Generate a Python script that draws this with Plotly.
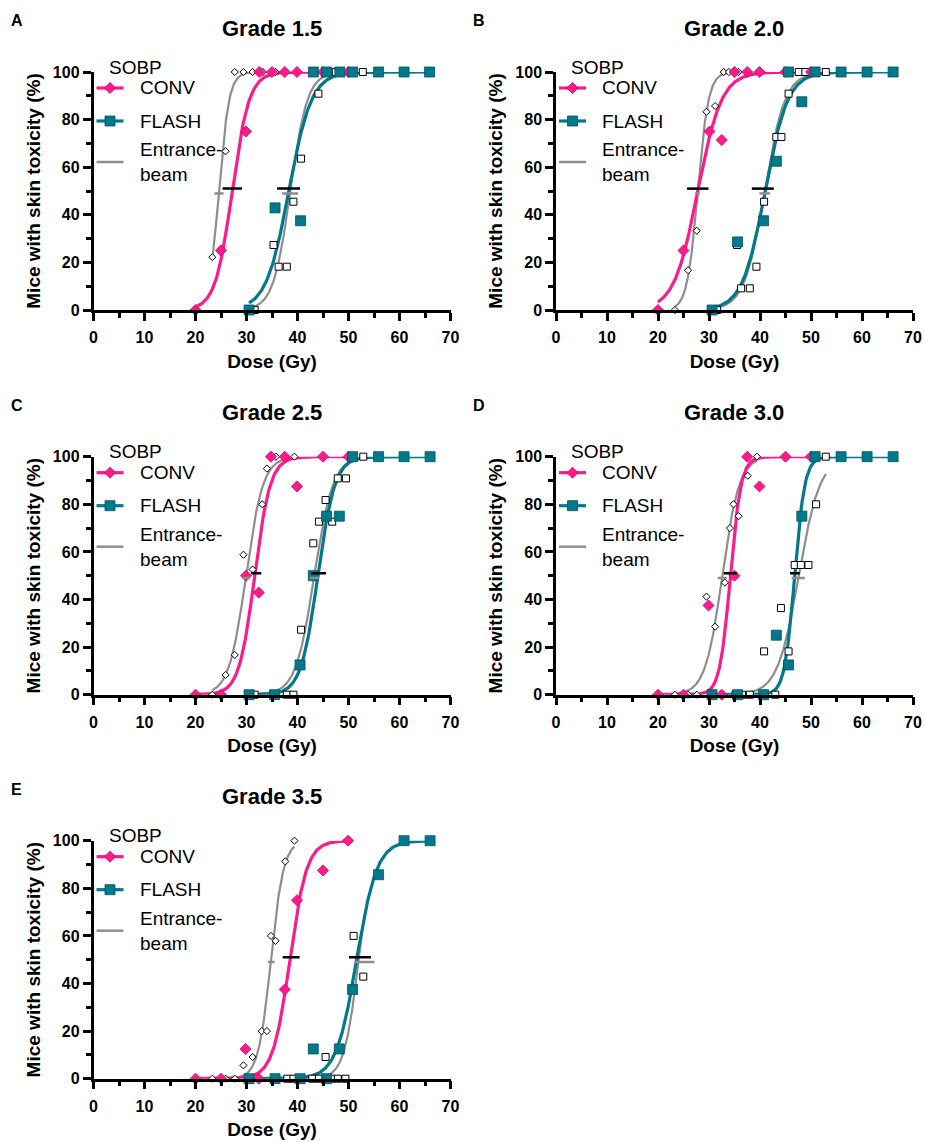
import math
import plotly.graph_objects as go

W, H = 925, 1142

PINK = "#FF1A8C"
PINK_EDGE = "#D0006E"
TEAL = "#00798B"
TEAL_EDGE = "#00525E"
GRAY = "#8E8E8E"
FONT = "Liberation Sans, Arial, sans-serif"

panel_letters = ["A", "B", "C", "D", "E"]
panel_titles = ["Grade 1.5", "Grade 2.0", "Grade 2.5", "Grade 3.0", "Grade 3.5"]
legend_labels = ["CONV", "FLASH", "Entrance-<br>beam"]
legend_header = "SOBP"
x_title = "Dose (Gy)"
y_title = "Mice with skin toxicity (%)"

# ---------------- Panel A (Grade 1.5) ----------------
A_conv_dose = [20.0, 25.0, 29.9, 32.5, 35.0, 37.5, 39.9, 45.0, 50.0]
A_conv_pct = [0, 25.0, 75.0, 100, 100, 100, 100, 100, 100]
A_conv_ent_dose = [23.3, 25.9, 27.7, 29.4, 31.2, 33.2, 35.7]
A_conv_ent_pct = [22.2, 66.7, 100, 100, 100, 100, 100]
A_flash_dose = [30.5, 35.6, 40.6, 43.1, 45.7, 48.3, 50.8, 55.9, 60.9, 65.9]
A_flash_pct = [0, 42.9, 37.5, 100, 100, 100, 100, 100, 100, 100]
A_flash_ent_dose = [31.6, 35.3, 36.3, 37.9, 39.2, 40.7, 44.1, 47.5, 52.8]
A_flash_ent_pct = [0, 27.3, 18.2, 18.2, 45.5, 63.6, 90.9, 100, 100]
# fit parameters: CONV, CONV entrance, FLASH, FLASH entrance
A_ed50 = [27.2, 24.6, 38.3, 38.6]
A_slope = [0.60, 1.00, 0.45, 0.60]
A_bar_lo = [25.3, 23.7, 36.0, 37.0]
A_bar_hi = [29.1, 25.5, 40.5, 40.1]

# ---------------- Panel B (Grade 2.0) ----------------
B_conv_dose = [20.0, 25.0, 30.1, 32.5, 35.0, 37.5, 39.9, 45.0, 50.0]
B_conv_pct = [0, 25.0, 75.0, 71.4, 100, 100, 100, 100, 100]
B_conv_ent_dose = [23.3, 25.9, 27.6, 29.5, 31.2, 32.9, 33.9, 35.8]
B_conv_ent_pct = [0, 16.7, 33.3, 83.3, 85.7, 100, 100, 100]
B_flash_dose = [30.6, 35.6, 40.7, 43.2, 45.6, 48.2, 50.8, 55.9, 61.0, 66.1]
B_flash_pct = [0, 28.6, 37.5, 62.5, 100, 87.5, 100, 100, 100, 100]
B_flash_ent_dose = [31.6, 35.5, 36.3, 38.0, 39.3, 40.8, 43.2, 44.2, 45.6, 47.6, 48.9, 52.9]
B_flash_ent_pct = [0, 27.3, 9.1, 9.1, 18.2, 45.5, 72.7, 72.7, 90.9, 100, 100, 100]
B_ed50 = [27.8, 27.8, 41.0, 40.9]
B_slope = [0.43, 0.95, 0.45, 0.50]
B_bar_lo = [25.7, 27.3, 38.4, 39.9]
B_bar_hi = [29.9, 28.2, 42.7, 42.0]

# ---------------- Panel C (Grade 2.5) ----------------
C_conv_dose = [20.0, 25.0, 29.9, 32.4, 34.8, 37.5, 39.9, 45.0, 50.0]
C_conv_pct = [0, 0, 50.0, 42.9, 100, 100, 87.5, 100, 100]
C_conv_ent_dose = [23.3, 25.9, 27.7, 29.4, 31.2, 33.1, 34.0, 35.8, 39.4]
C_conv_ent_pct = [0, 8.3, 16.7, 58.8, 52.6, 80.0, 95.0, 100, 100]
C_flash_dose = [30.5, 35.5, 40.5, 43.1, 45.7, 48.2, 50.8, 55.9, 60.9, 66.0]
C_flash_pct = [0, 0, 12.5, 50.0, 75.0, 75.0, 100, 100, 100, 100]
C_flash_ent_dose = [31.6, 37.9, 39.2, 40.7, 43.1, 44.2, 45.5, 46.8, 47.9, 49.5, 52.9]
C_flash_ent_pct = [0, 0, 0, 27.3, 63.6, 72.7, 81.8, 72.7, 90.9, 90.9, 100]
C_ed50 = [31.6, 29.9, 44.0, 43.3]
C_slope = [0.65, 0.60, 0.60, 0.55]
C_bar_lo = [30.9, 29.2, 42.7, 42.4]
C_bar_hi = [32.9, 30.7, 45.6, 44.3]

# ---------------- Panel D (Grade 3.0) ----------------
D_conv_dose = [20.0, 25.0, 29.9, 32.5, 35.0, 37.5, 39.9, 45.0, 50.0]
D_conv_pct = [0, 0, 37.5, 0, 50.0, 100, 87.5, 100, 100]
D_conv_ent_dose = [23.3, 25.9, 27.6, 29.5, 31.2, 33.1, 34.1, 34.8, 35.8, 37.6, 39.4]
D_conv_ent_pct = [0, 0, 0, 41.2, 28.6, 47.1, 70.0, 80.0, 75.0, 92.0, 100]
D_flash_dose = [30.6, 35.6, 40.7, 43.2, 45.6, 48.2, 50.8, 55.9, 61.0, 66.1]
D_flash_pct = [0, 0, 0, 25.0, 12.5, 75.0, 100, 100, 100, 100]
D_flash_ent_dose = [35.2, 36.5, 38.0, 40.8, 43.0, 44.1, 45.6, 46.8, 48.0, 49.5, 51.0, 52.9]
D_flash_ent_pct = [0, 0, 0, 18.2, 0, 36.4, 18.2, 54.5, 54.5, 54.5, 80.0, 100]
D_ed50 = [34.2, 32.6, 46.8, 47.6]
D_slope = [0.95, 0.60, 1.00, 0.48]
D_bar_lo = [32.9, 31.7, 45.9, 46.2]
D_bar_hi = [35.5, 33.5, 47.8, 48.8]

# ---------------- Panel E (Grade 3.5) ----------------
E_conv_dose = [20.0, 25.0, 29.8, 32.4, 37.5, 39.9, 45.0, 49.9]
E_conv_pct = [0, 0, 12.5, 0, 37.5, 75.0, 87.5, 100]
E_conv_ent_dose = [23.3, 25.9, 27.7, 29.4, 31.2, 33.0, 34.0, 34.8, 35.7, 37.6, 39.4]
E_conv_ent_pct = [0, 0, 0, 5.6, 9.1, 20.0, 20.0, 60.0, 57.9, 91.3, 100]
E_flash_dose = [30.5, 35.6, 40.5, 43.1, 45.7, 48.2, 50.8, 55.9, 60.9, 66.0]
E_flash_pct = [0, 0, 0, 12.5, 0, 12.5, 37.5, 85.7, 100, 100]
E_flash_ent_dose = [38.0, 39.2, 42.9, 44.2, 45.5, 46.6, 47.9, 49.4, 51.0, 52.9]
E_flash_ent_pct = [0, 0, 0, 0, 9.1, 0, 0, 0, 60.0, 42.9]
E_ed50 = [38.5, 34.8, 51.6, 52.0]
E_slope = [0.60, 0.80, 0.50, 0.70]
E_bar_lo = [37.1, 34.2, 50.1, 51.2]
E_bar_hi = [40.4, 35.5, 54.4, 55.1]

panels = [
    (A_conv_dose, A_conv_pct, A_conv_ent_dose, A_conv_ent_pct, A_flash_dose, A_flash_pct,
     A_flash_ent_dose, A_flash_ent_pct, A_ed50, A_slope, A_bar_lo, A_bar_hi),
    (B_conv_dose, B_conv_pct, B_conv_ent_dose, B_conv_ent_pct, B_flash_dose, B_flash_pct,
     B_flash_ent_dose, B_flash_ent_pct, B_ed50, B_slope, B_bar_lo, B_bar_hi),
    (C_conv_dose, C_conv_pct, C_conv_ent_dose, C_conv_ent_pct, C_flash_dose, C_flash_pct,
     C_flash_ent_dose, C_flash_ent_pct, C_ed50, C_slope, C_bar_lo, C_bar_hi),
    (D_conv_dose, D_conv_pct, D_conv_ent_dose, D_conv_ent_pct, D_flash_dose, D_flash_pct,
     D_flash_ent_dose, D_flash_ent_pct, D_ed50, D_slope, D_bar_lo, D_bar_hi),
    (E_conv_dose, E_conv_pct, E_conv_ent_dose, E_conv_ent_pct, E_flash_dose, E_flash_pct,
     E_flash_ent_dose, E_flash_ent_pct, E_ed50, E_slope, E_bar_lo, E_bar_hi),
]

# pixel layout of the plot areas (left, top) ; width / height
PW, PH = 357.0, 238.0
col_x = [93.5, 556.0]
row_y = [72.0, 456.7, 840.7]
panel_pos = [(0, 0), (1, 0), (0, 1), (1, 1), (0, 2)]


def logistic_curve(xs, ed50, k, n=200):
    lo, hi = min(xs), max(xs)
    cx = [lo + (hi - lo) * i / (n - 1) for i in range(n)]
    cy = [100.0 / (1.0 + math.exp(-k * (v - ed50))) for v in cx]
    return cx, cy


def px(x):
    return x / W


def py(y):
    return 1 - y / H


fig = go.Figure()
shapes = []
annotations = []

for i, data in enumerate(panels):
    (cd, cp, ced, cep, fd, fp, fed, fep, ed50, slope, blo, bhi) = data
    n = i + 1
    xa = "x" if n == 1 else f"x{n}"
    ya = "y" if n == 1 else f"y{n}"
    col, row = panel_pos[i]
    x0 = col_x[col]
    yt = row_y[row]

    # entrance-beam fits (gray)
    for xs, j in ((ced, 1), (fed, 3)):
        cx, cy = logistic_curve(xs, ed50[j], slope[j])
        fig.add_trace(go.Scatter(x=cx, y=cy, mode="lines", xaxis=xa, yaxis=ya,
                                 line=dict(color=GRAY, width=2.2), cliponaxis=False,
                                 hoverinfo="skip"))
    # SOBP fits
    for xs, j, colr in ((cd, 0, PINK), (fd, 2, TEAL)):
        cx, cy = logistic_curve(xs, ed50[j], slope[j])
        fig.add_trace(go.Scatter(x=cx, y=cy, mode="lines", xaxis=xa, yaxis=ya,
                                 line=dict(color=colr, width=3.2), cliponaxis=False,
                                 hoverinfo="skip"))
    # entrance-beam points (open)
    fig.add_trace(go.Scatter(x=ced, y=cep, mode="markers", xaxis=xa, yaxis=ya, cliponaxis=False,
                             marker=dict(symbol="diamond", size=5.5, color="white",
                                         line=dict(color="black", width=1))))
    fig.add_trace(go.Scatter(x=fed, y=fep, mode="markers", xaxis=xa, yaxis=ya, cliponaxis=False,
                             marker=dict(symbol="square", size=7, color="white",
                                         line=dict(color="black", width=1))))
    # SOBP points (filled)
    fig.add_trace(go.Scatter(x=cd, y=cp, mode="markers", xaxis=xa, yaxis=ya, cliponaxis=False,
                             marker=dict(symbol="diamond", size=8.5, color=PINK,
                                         line=dict(color=PINK_EDGE, width=0.8))))
    fig.add_trace(go.Scatter(x=fd, y=fp, mode="markers", xaxis=xa, yaxis=ya, cliponaxis=False,
                             marker=dict(symbol="square", size=10, color=TEAL,
                                         line=dict(color=TEAL_EDGE, width=0.8))))
    # ED50 bars: gray (entrance) at 49, black (SOBP) at 51
    for j in (1, 3):
        fig.add_trace(go.Scatter(x=[blo[j], bhi[j]], y=[49, 49], mode="lines", xaxis=xa, yaxis=ya,
                                 line=dict(color=GRAY, width=2.5), hoverinfo="skip"))
    for j in (0, 2):
        fig.add_trace(go.Scatter(x=[blo[j], bhi[j]], y=[51, 51], mode="lines", xaxis=xa, yaxis=ya,
                                 line=dict(color="black", width=2.5), hoverinfo="skip"))

    # axes
    dom_x = [px(x0), px(x0 + PW)]
    dom_y = [py(yt + PH), py(yt)]
    xkey = "xaxis" if n == 1 else f"xaxis{n}"
    ykey = "yaxis" if n == 1 else f"yaxis{n}"
    fig.layout[xkey] = dict(
        domain=dom_x, anchor=ya, range=[0, 70], showline=True, linecolor="black", linewidth=2.5,
        ticks="outside", ticklen=8, tickwidth=2.5, tickcolor="black", tick0=0, dtick=10,
        ticklabelstandoff=3,
        tickfont=dict(family=FONT, size=16, color="black", weight="bold"),
        minor=dict(ticks="outside", ticklen=5, tickwidth=2.5, tickcolor="black", dtick=5, tick0=0),
        showgrid=False, zeroline=False, automargin=False, fixedrange=True,
        title=dict(text=x_title, font=dict(family=FONT, size=19, color="black", weight="bold"),
                   standoff=10),
    )
    fig.layout[ykey] = dict(
        domain=dom_y, anchor=xa, range=[0, 100], showline=True, linecolor="black", linewidth=2.5,
        ticks="outside", ticklen=8, tickwidth=2.5, tickcolor="black", tick0=0, dtick=20,
        tickfont=dict(family=FONT, size=16, color="black", weight="bold"),
        minor=dict(ticks="outside", ticklen=5, tickwidth=2.5, tickcolor="black", dtick=10, tick0=0),
        showgrid=False, zeroline=False, automargin=False, fixedrange=True,
        title=dict(text=y_title, font=dict(family=FONT, size=19, color="black", weight="bold"),
                   standoff=8),
    )

    # panel letter and title
    annotations.append(dict(text=f"<b>{panel_letters[i]}</b>", x=px(x0 - 77), y=py(yt - 51),
                            xref="paper", yref="paper", xanchor="center", yanchor="middle",
                            showarrow=False, font=dict(family=FONT, size=16, color="black")))
    annotations.append(dict(text=f"<b>{panel_titles[i]}</b>", x=px(x0 + PW / 2 - 0.5), y=py(yt - 44),
                            xref="paper", yref="paper", xanchor="center", yanchor="middle",
                            showarrow=False, font=dict(family=FONT, size=22, color="black")))

    # manual legend
    annotations.append(dict(text=legend_header, x=px(x0 + 13), y=py(yt - 5), xref="paper", yref="paper",
                            xanchor="left", yanchor="middle", showarrow=False,
                            font=dict(family=FONT, size=19, color="black")))
    leg_rows = [(yt + 16, PINK, "diamond", legend_labels[0]),
                (yt + 49, TEAL, "square", legend_labels[1]),
                (yt + 90, GRAY, None, legend_labels[2])]
    for (ly, colr, sym, lab) in leg_rows:
        shapes.append(dict(type="line", xref="paper", yref="paper", x0=px(x0 + 3), x1=px(x0 + 30),
                           y0=py(ly), y1=py(ly),
                           line=dict(color=colr, width=3.2 if sym else 2.5)))
        cxp, cyp = x0 + 16.5, ly
        if sym == "diamond":
            r = 5.5
            pts = [(cxp - r, cyp), (cxp, cyp - r), (cxp + r, cyp), (cxp, cyp + r)]
            shapes.append(dict(type="path", xref="paper", yref="paper",
                               path="M " + " L ".join(f"{px(a):.5f},{py(b):.5f}" for a, b in pts) + " Z",
                               fillcolor=PINK, line=dict(color=PINK_EDGE, width=0.8)))
        elif sym == "square":
            r = 5
            pts = [(cxp - r, cyp - r), (cxp + r, cyp - r), (cxp + r, cyp + r), (cxp - r, cyp + r)]
            shapes.append(dict(type="path", xref="paper", yref="paper",
                               path="M " + " L ".join(f"{px(a):.5f},{py(b):.5f}" for a, b in pts) + " Z",
                               fillcolor=TEAL, line=dict(color=TEAL_EDGE, width=0.8)))
        annotations.append(dict(text=lab, x=px(x0 + 44), y=py(ly), xref="paper", yref="paper",
                                xanchor="left", yanchor="middle", align="left", showarrow=False,
                                font=dict(family=FONT, size=19, color="black")))

fig.update_layout(
    width=W, height=H, margin=dict(l=0, r=0, t=0, b=0),
    paper_bgcolor="white", plot_bgcolor="white", showlegend=False,
    shapes=shapes, annotations=annotations,
    font=dict(family=FONT, color="black"),
)

fig.write_html("out.html", config={"displayModeBar": False},
               post_script="document.body.style.margin='0px';document.body.style.overflow='hidden';")
